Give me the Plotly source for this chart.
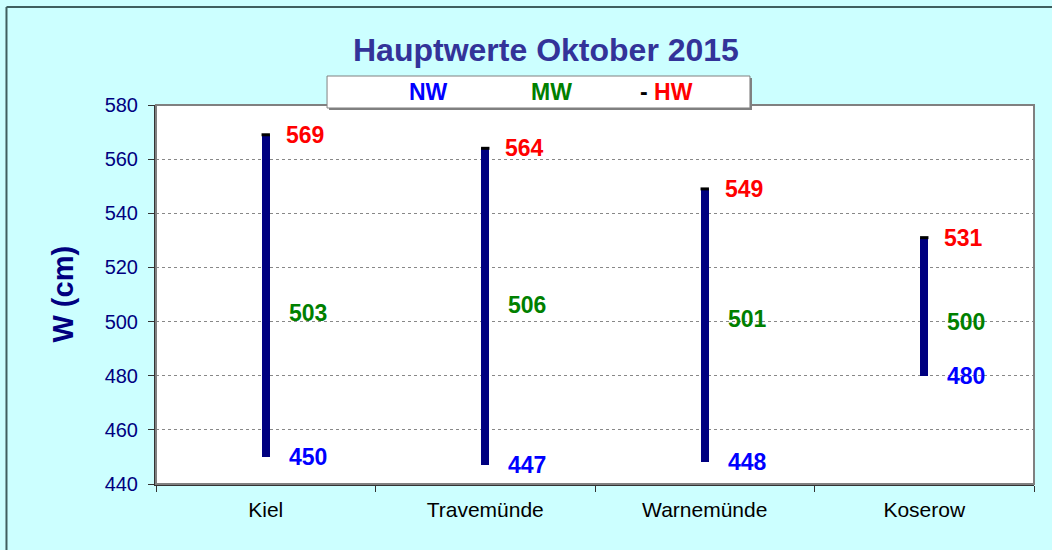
import plotly.graph_objects as go

stations = ["Kiel", "Travemünde", "Warnemünde", "Koserow"]
nw = [450, 447, 448, 480]
mw = [503, 506, 501, 500]
hw = [569, 564, 549, 531]
y_ticks = [440, 460, 480, 500, 520, 540, 560, 580]

FONT = "Arial, Liberation Sans, sans-serif"
BG = "#CCFFFF"

fig = go.Figure()
fig.add_trace(go.Bar(
    x=stations, y=[h - n for h, n in zip(hw, nw)], base=nw,
    width=0.036, marker=dict(color="#000080", line=dict(width=0)),
    showlegend=False, hoverinfo="skip"))
fig.add_trace(go.Scatter(
    x=stations, y=hw, mode="markers",
    marker=dict(symbol="line-ew", size=6, line=dict(width=3, color="black")),
    showlegend=False, hoverinfo="skip"))

LBL = 23
ann = []
for s, n, m, h in zip(stations, nw, mw, hw):
    ann.append(dict(x=s, y=h, text="<b>%d</b>" % h, xref="x", yref="y", showarrow=False,
                    xanchor="left", yanchor="middle", xshift=18,
                    font=dict(family=FONT, size=LBL, color="#FF0000")))
    ann.append(dict(x=s, y=m, text="<b>%d</b>" % m, xref="x", yref="y", showarrow=False,
                    xanchor="left", yanchor="middle", xshift=21,
                    font=dict(family=FONT, size=LBL, color="#008000")))
    ann.append(dict(x=s, y=n, text="<b>%d</b>" % n, xref="x", yref="y", showarrow=False,
                    xanchor="left", yanchor="middle", xshift=21,
                    font=dict(family=FONT, size=LBL, color="#0000FF")))

# title
ann.append(dict(x=0.444, y=1.145, xref="paper", yref="paper", showarrow=False,
                text="<b>Hauptwerte Oktober 2015</b>", xanchor="center", yanchor="middle",
                font=dict(family=FONT, size=32, color="#333399")))
# y title
ann.append(dict(x=-0.107, y=0.50, xref="paper", yref="paper", showarrow=False,
                text="<b>W (cm)</b>", textangle=-90, xanchor="center", yanchor="middle",
                font=dict(family=FONT, size=29, color="#000080")))
# legend texts
leg_y = 1.0343
ann.append(dict(x=0.3098, y=leg_y, xref="paper", yref="paper", showarrow=False,
                xanchor="center", yanchor="middle",
                text="<b>NW</b>", font=dict(family=FONT, size=23, color="#0000FF")))
ann.append(dict(x=0.451, y=leg_y, xref="paper", yref="paper", showarrow=False,
                xanchor="center", yanchor="middle",
                text="<b>MW</b>", font=dict(family=FONT, size=23, color="#008000")))
ann.append(dict(x=0.581, y=leg_y, xref="paper", yref="paper", showarrow=False,
                xanchor="center", yanchor="middle",
                text="<b><span style='color:black'>-</span> HW</b>",
                font=dict(family=FONT, size=23, color="#FF0000")))

shapes = [
    dict(type="rect", xref="paper", yref="paper", x0=0, x1=1, y0=0, y1=1,
         line=dict(color="#808080", width=2), layer="above"),
    dict(type="line", xref="paper", yref="paper", x0=-0.1703, x1=-0.1703, y0=1.2586, y1=-0.25,
         line=dict(color="#3F5F5F", width=2)),
    dict(type="line", xref="paper", yref="paper", x0=-0.1703, x1=1.03, y0=1.2586, y1=1.2586,
         line=dict(color="#3F5F5F", width=2)),
    dict(type="rect", xref="paper", yref="paper", x0=0.1971, x1=0.6788, y0=0.9868, y1=1.0712,
         fillcolor="#808080", line=dict(width=0), layer="above"),
    dict(type="rect", xref="paper", yref="paper", x0=0.1948, x1=0.6765, y0=0.9921, y1=1.0765,
         fillcolor="white", line=dict(color="#808080", width=1), layer="above"),
]

fig.update_layout(
    width=1052, height=550,
    margin=dict(l=156, r=18, t=105, b=66),
    paper_bgcolor=BG, plot_bgcolor="white",
    annotations=ann, shapes=shapes,
    bargap=0,
    xaxis=dict(type="category", range=[-0.5, 3.5], tickson="boundaries",
               ticks="outside", ticklen=6, tickcolor="#333333",
               showline=True, linecolor="#333333", linewidth=2, showgrid=False,
               ticklabelstandoff=6,
               tickfont=dict(family=FONT, size=21, color="black")),
    yaxis=dict(range=[440, 580], tickvals=y_ticks, ticks="outside", ticklen=6,
               tickcolor="#333333", showline=True, linecolor="#333333", linewidth=2,
               showgrid=True, gridcolor="#888888", griddash="dot", gridwidth=1,
               zeroline=False, ticklabelstandoff=6,
               tickfont=dict(family=FONT, size=20, color="#000080")),
)

fig.write_html("out.html", config={"displayModeBar": False},
               post_script="document.body.style.margin='0';document.body.style.overflow='hidden';")
